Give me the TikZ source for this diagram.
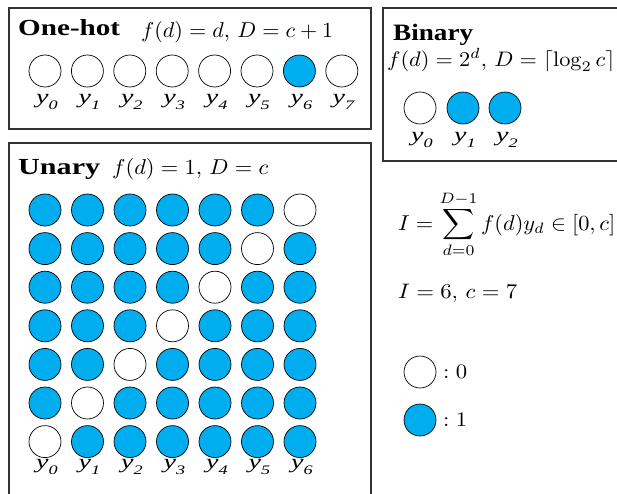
\RequirePackage{fix-cm}
\documentclass[tikz,border=0pt]{standalone}
\usepackage[no-math]{fontspec}
\setmainfont{Liberation Serif}
\usepackage{graphicx}
\definecolor{cblue}{HTML}{00AEEF}
\definecolor{boxgray}{HTML}{333333}
% fit content to width #1, vertical factor #2
\newcommand\fitbox[3]{\resizebox{#1}{\height}{\scalebox{1}[#2]{#3}}}
\newcommand\sx[1]{\scalebox{1.4}[1]{#1}}
\newcommand\lab[1]{\sx{\fontsize{20}{20}\selectfont\textit{y}\raisebox{-0.28em}{\fontsize{13}{13}\selectfont\textit{#1}}}}
\tikzset{
  panel/.style={draw=boxgray, line width=1.3pt},
  bit/.style={circle, draw=black, line width=0.7pt, minimum size=32pt, inner sep=0pt},
  on/.style={bit, fill=cblue},
  off/.style={bit, fill=white},
  txt/.style={anchor=base west, inner sep=0pt},
  ylab/.style={inner sep=0pt, anchor=center}
}
\begin{document}
\begin{tikzpicture}[x=1pt,y=-1pt]
\useasboundingbox (0,0) rectangle (617,494);
% panels
\draw[panel] (9,8) rectangle (371,129);
\draw[panel] (383,8) rectangle (630,161);
\draw[panel] (9,143) rectangle (371,510);
% One-hot
\node[txt] (t1) at (18,36) {\fitbox{102pt}{2.3}{\bfseries One-hot}};
\node[txt] (f1) at (141,38) {\fitbox{192pt}{2.15}{$f(d)=d,\, D=c+1$}};
\foreach \i in {0,...,7}{
  \ifnum\i=6 \def\st{on}\else\def\st{off}\fi
  \node[\st] (o\i) at ({45+42.4*\i},71) {};
  \node[ylab] (ol\i) at ({47+42.4*\i},102) {\lab{\i}};
}
% Binary
\node[txt] (t2) at (393,40.7) {\fitbox{80pt}{2.35}{\bfseries Binary}};
\node[txt] (f2) at (387,66.5) {\fitbox{228pt}{2.1}{$f(d)=2^d,\, D=\lceil\log_2 c\rceil$}};
\node[off] (b0) at (420,108) {};
\node[on]  (b1) at (463,108) {};
\node[on]  (b2) at (505,108) {};
\node[ylab] (bl0) at (422,140) {\lab{0}};
\node[ylab] (bl1) at (465,140) {\lab{1}};
\node[ylab] (bl2) at (507,140) {\lab{2}};
% Unary
\node[txt] (t3) at (18,174.7) {\fitbox{82pt}{2.3}{\bfseries Unary}};
\node[txt] (f3) at (112,175) {\fitbox{156pt}{2.15}{$f(d)=1,\, D=c$}};
\foreach \j in {0,...,6}{
  \foreach \i in {0,...,6}{
    \pgfmathtruncatemacro\w{6-\j}
    \ifnum\i=\w \def\st{off}\else\def\st{on}\fi
    \node[\st] (u\j\i) at ({45+42.5*\i},{210+38.6*\j}) {};
  }
}
\foreach \i in {0,...,6}{
  \node[ylab] (ul\i) at ({47+42.5*\i},467) {\lab{\i}};
}
% right side
\node[txt] (sum) at (398,230) {\fitbox{217pt}{2.15}{$\displaystyle I=\sum_{d=0}^{D-1} f(d)y_d\in[0,c]$}};
\node[txt] (ic) at (398,298) {\fitbox{119pt}{2.1}{$I=6,\, c=7$}};
\node[off] (l0) at (420,372) {};
\node[on]  (l1) at (420,420) {};
\node[txt] (l0t) at (443,378) {\fitbox{24pt}{2.05}{$:0$}};
\node[txt] (l1t) at (443,426.5) {\fitbox{24pt}{2.05}{$:1$}};
\end{tikzpicture}
\end{document}
